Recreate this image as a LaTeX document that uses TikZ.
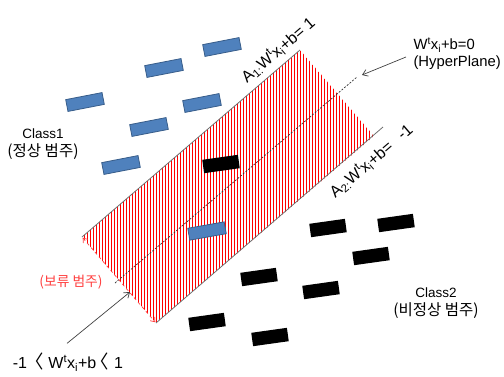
\documentclass[tikz,border=0pt]{standalone}
\usepackage{fontspec}
\setmainfont{Liberation Sans}
\newfontfamily\kr[Scale=1.15]{Noto Sans CJK KR}
\usetikzlibrary{arrows.meta,patterns.meta}

\definecolor{boxblue}{HTML}{4F81BD}
\definecolor{boxedge}{HTML}{385D8A}
\definecolor{edgegray}{HTML}{707070}
\definecolor{pointgray}{HTML}{404040}
\definecolor{holdred}{HTML}{FF4040}

\tikzset{
  bluebox/.style={draw=boxedge, line width=0.8pt, fill=boxblue, minimum width=37pt, minimum height=12pt, inner sep=0pt, rotate=11},
  blackbox/.style={fill=black, minimum width=36pt, minimum height=13.5pt, inner sep=0pt, rotate=8},
  pointer/.style={pointgray, line width=0.7pt, -{Straight Barb[length=5pt,width=7pt]}},
  marginline/.style={edgegray, line width=0.8pt},
  linelabel/.style={rotate=40.7, inner sep=1pt, font=\fontsize{16}{18}\selectfont},
}

\begin{document}
\begin{tikzpicture}[x=1pt, y=-1pt, font=\fontsize{13.5}{18}\selectfont]
    \useasboundingbox (0,0) rectangle (504,376);

    % 경계선 좌표
    \coordinate (u1) at (82,237);
    \coordinate (u2) at (300,50);
    \coordinate (l1) at (156,323);
    \coordinate (l2) at (383,127);
    \coordinate (lh) at (374,136);
    \coordinate (h1) at (115,283);
    \coordinate (h2) at (357,77);

    % 보류 영역 (빗금)
    \fill[pattern={Lines[angle=90, distance=3pt, line width=0.7pt]}, pattern color=red]
        (u1) -- (u2) -- (lh) -- (l1) -- cycle;

    % 세 직선
    \draw[marginline] (u1) -- (u2);
    \draw[marginline] (l1) -- (l2);
    \draw[black!80, line width=0.7pt, dash pattern=on 2pt off 1.5pt] (h1) -- (h2);

    % 여백 폭 화살표
    \draw[holdred, line width=0.7pt, dashed, shorten <=1pt, shorten >=1pt,
          {Straight Barb[length=4pt,width=6pt]}-{Straight Barb[length=4pt,width=6pt]}] (u1) -- (l1);

    % Class1 데이터
    \node[bluebox] (b1) at (222,47) {};
    \node[bluebox] (b2) at (164,68) {};
    \node[bluebox] (b3) at (85,102) {};
    \node[bluebox] (b4) at (202,103) {};
    \node[bluebox] (b5) at (149,127) {};
    \node[bluebox] (b6) at (121,165) {};
    \node[bluebox, rotate=-1] (b7) at (207,231) {};

    % Class2 데이터
    \node[blackbox] (k1) at (221,164) {};
    \node[blackbox] (k2) at (328,228) {};
    \node[blackbox] (k3) at (396,223) {};
    \node[blackbox] (k4) at (371,256) {};
    \node[blackbox] (k5) at (259,277) {};
    \node[blackbox] (k6) at (321,290) {};
    \node[blackbox] (k7) at (207,322) {};
    \node[blackbox] (k8) at (270,337) {};

    % 직선 라벨
    \node[linelabel] (a1lab) at (278,50)
        {A\textsubscript{1:}W\textsuperscript{t}x\textsubscript{i}+b= 1};
    \node[linelabel] (a2lab) at (371,161)
        {A\textsubscript{2:}W\textsuperscript{t}x\textsubscript{i}+b=\hspace{7pt} -1};

    % 범주 이름
    \node[align=center] (class1) at (43,144) {Class1\\{\kr (정상 범주)}};
    \node[align=center] (class2) at (436,303) {Class2\\{\kr (비정상 범주)}};
    \node[holdred, font=\fontsize{12}{14}\selectfont\kr] (hold) at (71,282) {(보류 범주)};

    % 초평면 설명
    \node[anchor=west, align=left, font=\fontsize{14.8}{17}\selectfont] (hyp) at (410,54)
        {W\textsuperscript{t}x\textsubscript{i}+b=0\\(HyperPlane)};
    \draw[pointer] ([xshift=-4pt, yshift=-3pt]hyp.west) -- (362,75);

    % 부등식 설명
    \node[font=\fontsize{16}{18}\selectfont] (ineq) at (68,362)
        {-1\kern-6pt\ {\kr 〈}\ W\textsuperscript{t}x\textsubscript{i}+b\kern-6pt{\kr 〈}\kern1pt\ 1};
    \coordinate (ineqtip) at (130,292);
    \draw[pointer] ([xshift=-1pt, yshift=6pt]ineq.north) -- (ineqtip);

\end{tikzpicture}
\end{document}
